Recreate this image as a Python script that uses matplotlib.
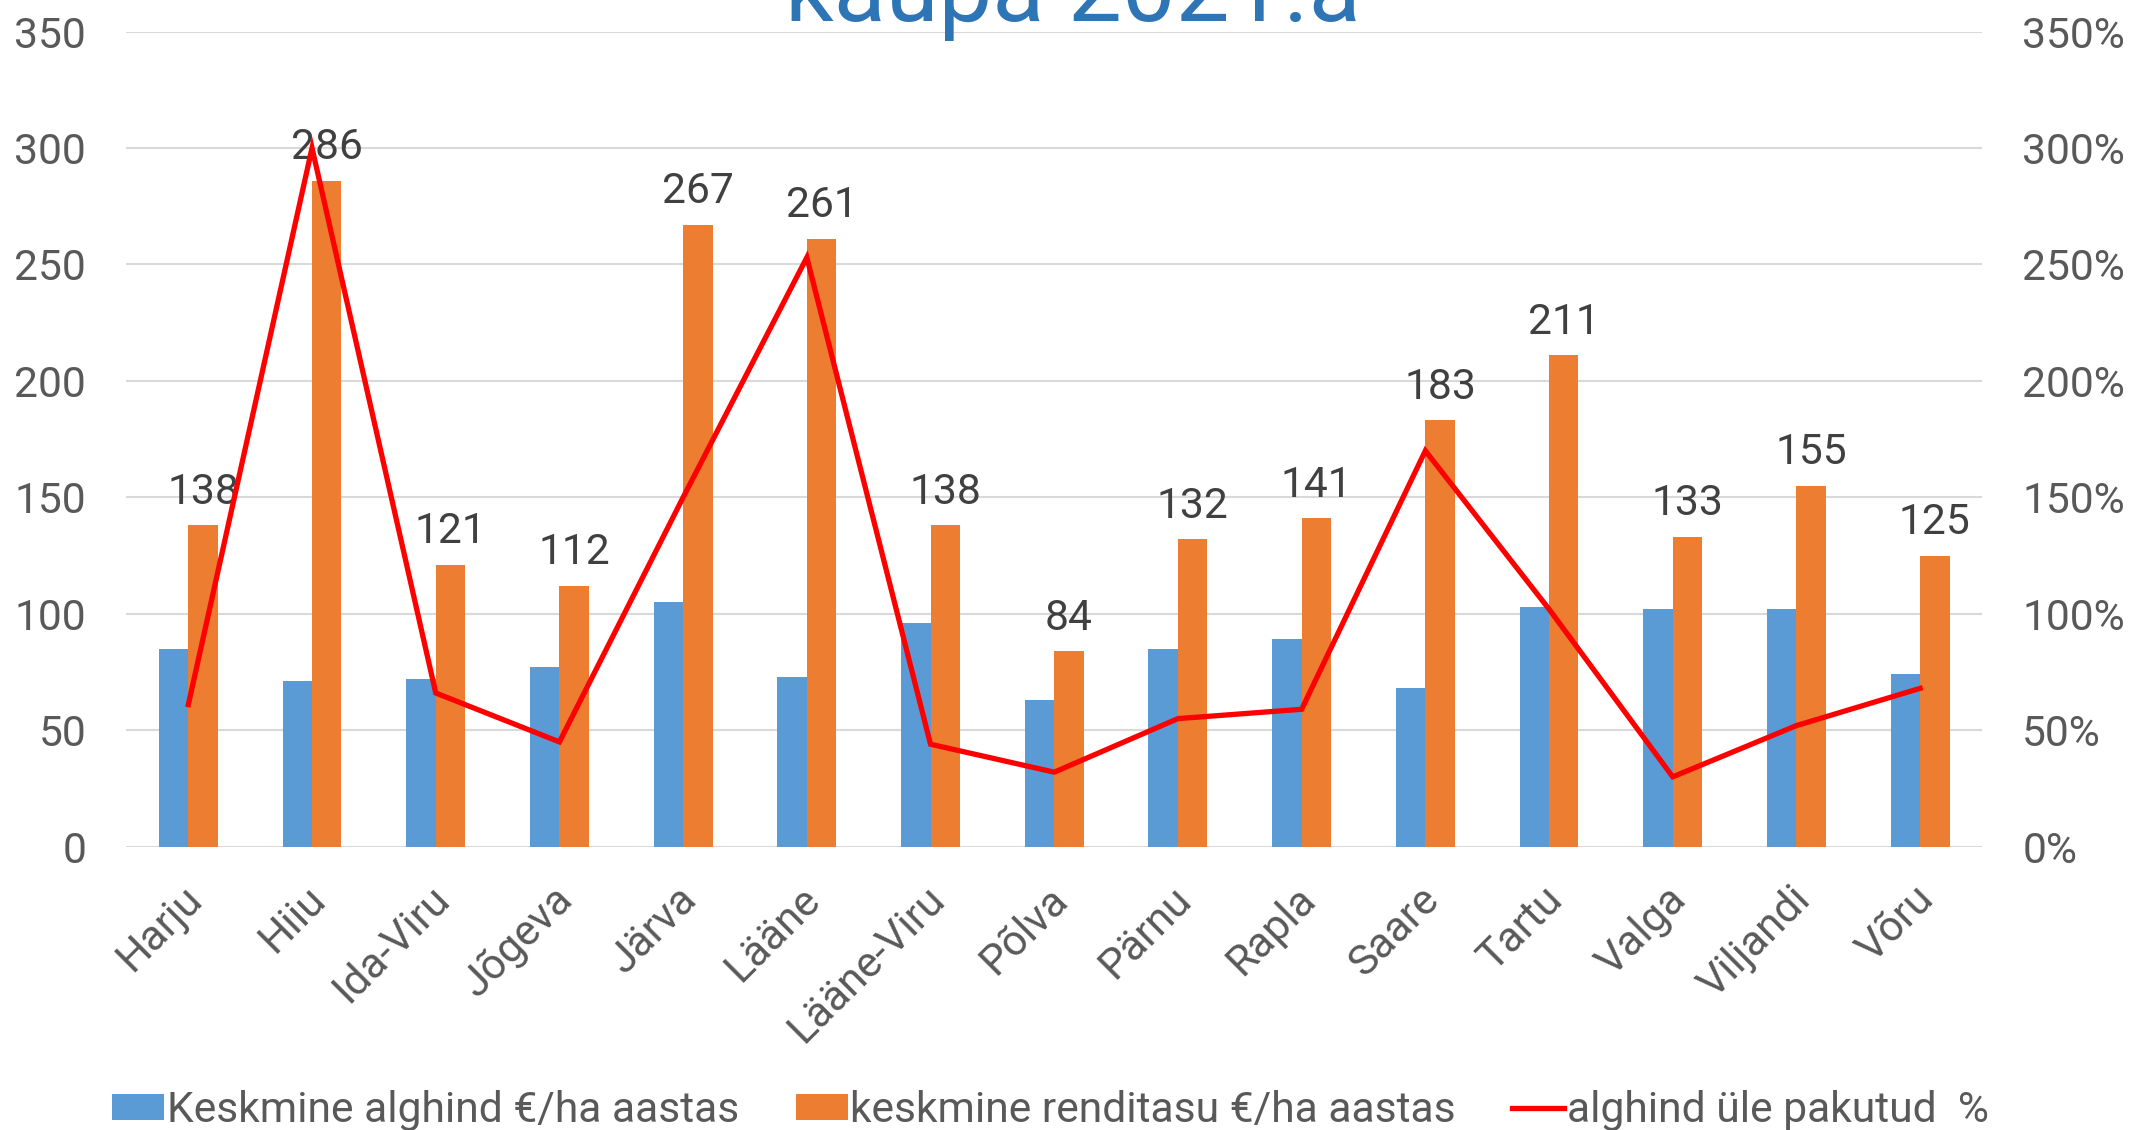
import matplotlib
matplotlib.use("Agg")
import matplotlib.pyplot as plt
import numpy as np
from matplotlib.ticker import FuncFormatter, MultipleLocator
from matplotlib.transforms import ScaledTranslation

categories = ["Harju", "Hiiu", "Ida-Viru", "Jõgeva", "Järva", "Lääne", "Lääne-Viru",
              "Põlva", "Pärnu", "Rapla", "Saare", "Tartu", "Valga", "Viljandi", "Võru"]
alghind = [85, 71, 72, 77, 105, 73, 96, 63, 85, 89, 68, 103, 102, 102, 74]
renditasu = [138, 286, 121, 112, 267, 261, 138, 84, 132, 141, 183, 211, 133, 155, 125]
yle_pakutud = [61, 300, 66, 45, 150, 253, 44, 32, 55, 59, 170, 102, 30, 52, 68]

series_names = ["Keskmine alghind €/ha aastas", "keskmine renditasu €/ha aastas",
                "alghind üle pakutud  %"]
title_text = "kaupa 2021.a"

plt.rcParams['font.family'] = ['Roboto', 'DejaVu Sans']
TXT = "#595959"
FS = 30.7

fig = plt.figure(figsize=(21.33, 11.3), dpi=100)
ax = fig.add_axes([0.0593, 0.2507, 0.8699, 0.7214])

x = np.arange(len(categories))
w = 0.238
b1 = ax.bar(x - w / 2, alghind, w, color="#5B9BD5", label=series_names[0], zorder=2)
b2 = ax.bar(x + w / 2, renditasu, w, color="#ED7D31", label=series_names[1], zorder=2)

for xi, v in zip(x, renditasu):
    ax.annotate(f"{v}", (xi + w / 2, v), xytext=(0, 9), textcoords="offset points",
                ha="center", va="bottom", fontsize=FS, color="#404040", zorder=3)

ax.set_xlim(-0.5, len(categories) - 0.5)
ax.set_ylim(0, 350)
ax.yaxis.set_major_locator(MultipleLocator(50))
ax.grid(axis="y", color="#D9D9D9", lw=1.5, zorder=0)
ax.set_axisbelow(True)
for s in ax.spines.values():
    s.set_visible(False)
ax.tick_params(axis="y", length=0, pad=29, labelsize=FS, labelcolor=TXT)
ax.tick_params(axis="x", length=0, pad=23, labelsize=FS, labelcolor=TXT)
ax.set_xticks(x)
ax.set_xticklabels(categories, rotation=45, ha="right", va="top", rotation_mode="anchor")
shift = ScaledTranslation(-7 / 100, 0, fig.dpi_scale_trans)
for lbl in ax.get_xticklabels():
    lbl.set_transform(lbl.get_transform() + shift)

ax2 = ax.twinx()
ln, = ax2.plot(x, yle_pakutud, color="#FF0000", lw=3.8, label=series_names[2],
               solid_joinstyle="miter", zorder=4)
ax2.set_ylim(0, 350)
ax2.yaxis.set_major_locator(MultipleLocator(50))
ax2.yaxis.set_major_formatter(FuncFormatter(lambda v, p: f"{int(v)}%"))
ax2.tick_params(axis="y", length=0, pad=29, labelsize=FS, labelcolor=TXT)
for s in ax2.spines.values():
    s.set_visible(False)

fig.text(0.503, 0.981, title_text, ha="center", va="baseline", fontsize=69,
         color="#2E75B6")

leg = fig.legend([b1, b2, ln], series_names, loc="center", bbox_to_anchor=(0.4925, 0.017),
                 ncol=3, frameon=False, fontsize=FS, handlelength=1.22, handleheight=0.57,
                 handletextpad=0.06, columnspacing=1.32, borderpad=0, borderaxespad=0)
for t in leg.get_texts():
    t.set_color(TXT)

fig.savefig("out.png", dpi=100)
